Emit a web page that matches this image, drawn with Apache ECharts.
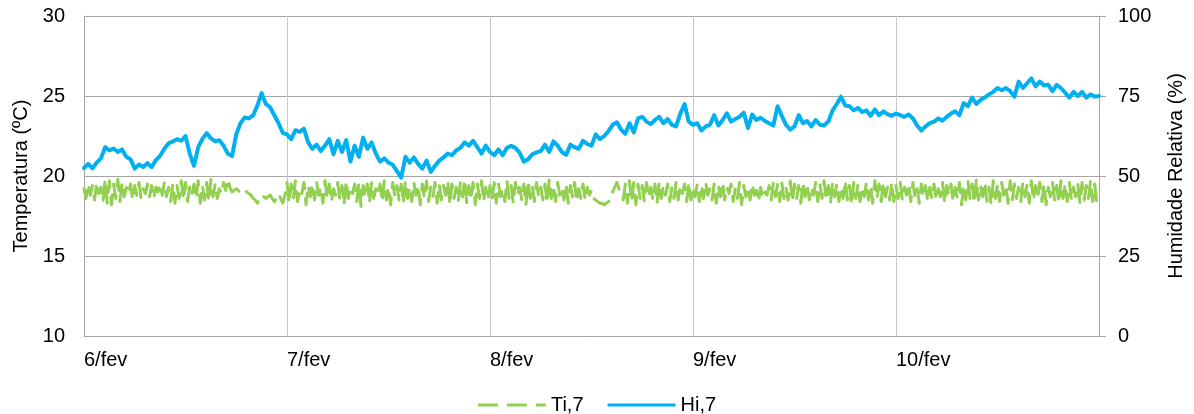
<!DOCTYPE html>
<html>
<head>
<meta charset="utf-8">
<title>Ti,7 / Hi,7</title>
<script src="https://cdn.jsdelivr.net/npm/echarts@6/dist/echarts.min.js"></script>
<style>
  html, body { margin: 0; padding: 0; background: #ffffff; }
  #chart { width: 1194px; height: 414px; }
</style>
</head>
<body>
<div id="chart"></div>
<script>
// Logger readings from 6/fev 00:00 to 11/fev 00:00
const dayLabels = ['6/fev', '7/fev', '8/fev', '9/fev', '10/fev'];
const tiPerDay = 96;   // temperature every 15 minutes
const hiPerDay = 48;   // humidity every 30 minutes

// Temperature (ºC), sensor 7
const tiDay6 = [
  19.2, 18.6, 19.5, 18.8, 19.4, 18.5, 19.6, 18.9, 19.3, 18.4, 19.8, 18.3, 19.7, 18.2, 19.5, 18.6,
  19.8, 18.4, 19.6, 18.7, 19.3, 18.9, 19.5, 18.5, 19.4, 18.8, 19.6, 18.6, 19.2, 18.9, 19.5, 18.7,
  19.4, 18.6, 19.3, 19.0, 19.5, 18.8, 19.6, 18.7, 19.3, 18.4, 19.5, 18.3, 19.4, 18.6, 19.7, 18.5,
  19.6, 18.4, 19.3, 18.8, 19.5, 18.6, 19.7, 18.3, 19.4, 18.5, 19.6, 18.4, 19.8, 18.7, 19.5, 18.6,
  19.2, 18.9, 19.6, 19.1, 19.8, 19.3, 19.0, 19.1, 19.2, 19.1, 18.9, 19.0, 19.1, 19.0, 18.9, 18.8,
  18.6, 18.5, 18.3, 18.5, 18.8, 18.7, 18.6, 18.7, 18.8, 18.6, 18.4, 18.6, 18.9, 18.6, 18.3, 18.8];
const tiDay7 = [
  19.6, 18.3, 19.5, 18.6, 19.7, 18.4, 19.2, 18.9, 19.6, 18.2, 19.4, 18.7, 19.5, 18.5, 19.6, 18.8,
  19.3, 18.3, 19.7, 18.6, 19.5, 18.4, 19.2, 18.8, 19.6, 18.5, 19.4, 18.2, 19.7, 18.6, 19.3, 18.9,
  19.5, 18.4, 19.6, 18.1, 19.4, 18.7, 19.5, 18.3, 19.6, 18.6, 19.2, 18.8, 19.5, 18.4, 19.7, 18.5,
  19.3, 18.2, 19.6, 18.7, 19.4, 18.5, 19.5, 18.3, 19.7, 18.6, 19.3, 18.4, 19.6, 18.8, 19.4, 18.2,
  19.5, 18.6, 19.7, 18.4, 19.3, 18.7, 19.6, 18.3, 19.5, 18.5, 19.4, 18.8, 19.7, 18.2, 19.5, 18.6,
  19.3, 18.4, 19.6, 18.7, 19.8, 18.3, 19.4, 18.5, 19.6, 18.2, 19.5, 18.6, 19.7, 18.4, 19.3, 18.5];
const tiDay8 = [
  19.4, 18.5, 19.6, 18.3, 19.5, 18.7, 19.2, 18.4, 19.7, 18.6, 19.4, 18.3, 19.6, 18.8, 19.3, 18.5,
  19.5, 18.2, 19.7, 18.6, 19.4, 18.4, 19.6, 18.7, 19.3, 18.5, 19.5, 18.3, 19.8, 18.6, 19.4, 18.4,
  19.6, 18.8, 19.3, 18.5, 19.5, 18.3, 19.4, 18.7, 19.6, 18.4, 19.2, 18.6, 19.5, 18.5, 19.3, 18.8,
  19.1, 18.6, 18.5, 18.4, 18.3, 18.3, 18.2, 18.3, 18.4, 18.5, 19.0, 19.3, 19.6, 19.2, 18.9, 18.5,
  19.5, 18.3, 19.7, 18.4, 19.6, 18.2, 19.5, 18.6, 19.4, 18.4, 19.6, 18.7, 19.3, 18.5, 19.5, 18.3,
  19.6, 18.6, 19.4, 18.8, 19.5, 18.4, 19.3, 18.6, 19.6, 18.5, 19.4, 18.9, 19.5, 18.4, 19.6, 18.5];
const tiDay9 = [
  19.3, 18.7, 19.5, 18.4, 19.4, 18.6, 19.6, 18.8, 19.2, 18.5, 19.5, 18.3, 19.4, 18.7, 19.6, 18.5,
  19.3, 18.9, 19.5, 18.4, 19.2, 18.6, 19.6, 18.2, 19.4, 18.7, 19.3, 18.5, 19.5, 18.8, 19.1, 18.4,
  19.3, 18.6, 19.0, 18.8, 19.4, 18.5, 19.6, 18.7, 19.5, 18.4, 19.6, 18.6, 19.3, 18.5, 19.7, 18.4,
  19.5, 18.6, 19.4, 18.3, 19.6, 18.7, 19.5, 18.5, 19.3, 18.8, 19.6, 18.4, 19.5, 18.6, 19.7, 18.5,
  19.4, 18.3, 19.6, 18.7, 19.5, 18.4, 19.3, 18.6, 19.7, 18.5, 19.4, 18.2, 19.6, 18.6, 19.5, 18.4,
  19.3, 18.7, 19.6, 18.5, 19.4, 18.3, 19.7, 18.6, 19.5, 18.4, 19.6, 18.7, 19.3, 18.5, 19.6, 18.4];
const tiDay10 = [
  19.4, 18.6, 19.6, 18.5, 19.3, 18.8, 19.5, 18.4, 19.6, 18.6, 19.2, 18.3, 19.5, 18.7, 19.4, 18.4,
  19.3, 18.6, 19.5, 18.5, 19.2, 18.7, 19.6, 18.3, 19.4, 18.8, 19.5, 18.4, 19.3, 18.6, 19.6, 18.2,
  19.4, 18.5, 19.7, 18.6, 19.5, 18.3, 19.8, 18.5, 19.4, 18.7, 19.6, 18.4, 19.3, 18.2, 19.7, 18.6,
  19.5, 18.4, 19.6, 18.8, 19.4, 18.3, 19.7, 18.5, 19.5, 18.6, 19.3, 18.4, 19.6, 18.7, 19.5, 18.3,
  19.7, 18.5, 19.4, 18.6, 19.6, 18.4, 19.5, 18.2, 19.3, 18.7, 19.6, 18.5, 19.4, 18.3, 19.7, 18.6,
  19.5, 18.4, 19.6, 18.5, 19.3, 18.7, 19.5, 18.3, 19.6, 18.5, 19.4, 18.6, 19.7, 18.4, 19.5, 18.2, 18.0];

// Relative humidity (%), sensor 7
const hiDay6 = [52.5, 53.8, 52.4, 54.2, 55.5, 59.0, 58.0, 58.6, 57.5, 58.3, 56.0, 55.2, 52.3, 53.6, 52.8, 54.0,
  52.8, 55.0, 56.3, 58.5, 60.2, 60.8, 61.5, 61.0, 62.5, 57.0, 53.2, 59.0, 61.6, 63.4, 61.8, 60.8,
  61.2, 59.5, 57.0, 56.2, 63.0, 66.5, 68.3, 68.0, 69.0, 72.0, 75.9, 72.5, 71.5, 69.0, 66.5, 63.5];
const hiDay7 = [63.0, 61.5, 64.3, 63.8, 64.8, 60.5, 58.5, 59.8, 57.8, 59.5, 61.5, 56.8, 61.0, 57.5, 61.2, 54.5,
  59.5, 56.0, 62.0, 58.5, 60.5, 57.0, 54.5, 55.5, 54.2, 53.5, 51.5, 49.5, 56.0, 54.2, 55.8, 53.8,
  52.3, 54.8, 51.3, 53.2, 54.8, 55.8, 57.0, 56.5, 58.0, 58.8, 60.5, 59.5, 61.0, 59.0, 57.0, 59.5];
const hiDay8 = [57.5, 56.5, 58.3, 56.5, 58.8, 59.4, 58.8, 57.3, 54.5, 55.2, 56.8, 57.4, 57.8, 59.8, 57.5, 60.8,
  59.5, 57.5, 56.6, 59.8, 59.0, 58.5, 61.0, 60.0, 59.5, 63.0, 61.5, 62.5, 64.0, 66.0, 66.8, 64.5,
  63.2, 66.5, 63.6, 68.0, 68.5, 67.0, 66.2, 67.5, 68.5, 66.5, 67.8, 66.0, 65.5, 69.5, 72.5, 67.0];
const hiDay9 = [66.0, 66.5, 64.2, 65.5, 66.0, 69.0, 65.8, 67.5, 69.6, 67.0, 67.8, 68.5, 69.8, 65.0, 69.2, 67.5,
  68.2, 67.2, 66.5, 65.8, 71.8, 68.8, 66.0, 64.5, 65.5, 69.0, 66.5, 67.2, 65.5, 67.5, 66.0, 65.8,
  67.0, 70.5, 72.5, 74.8, 72.0, 71.8, 70.5, 71.3, 70.0, 70.5, 68.8, 70.8, 69.0, 70.2, 69.3, 68.8];
const hiDay10 = [69.5, 69.0, 68.5, 69.2, 68.0, 65.8, 64.2, 65.5, 66.5, 67.0, 68.0, 67.3, 68.5, 69.5, 70.2, 69.0,
  72.8, 71.8, 74.5, 72.5, 73.8, 74.5, 75.5, 76.3, 77.5, 76.8, 77.5, 76.5, 74.8, 79.5, 77.5, 79.0,
  80.5, 78.0, 79.5, 78.3, 78.5, 76.5, 78.5, 77.5, 76.0, 74.5, 76.3, 75.0, 76.3, 74.5, 75.5, 74.8, 75.0];

const tiValues = [].concat(tiDay6, tiDay7, tiDay8, tiDay9, tiDay10);
const hiValues = [].concat(hiDay6, hiDay7, hiDay8, hiDay9, hiDay10);

// pair each reading with its time, in days since 6/fev 00:00
const withTime = (values, perDay) => values.map((v, i) => [i / perDay, v]);

const GREEN = '#92D050';
const BLUE = '#00B0F0';
const FONT = '"Liberation Sans", Arial, sans-serif';
const TEXT = { fontFamily: FONT, fontSize: 20, color: '#000000' };

const chart = echarts.init(document.getElementById('chart'), null, { renderer: 'canvas' });
chart.setOption({
  animation: false,
  backgroundColor: '#ffffff',
  textStyle: { fontFamily: FONT },
  grid: { left: 84, right: 94, top: 16, bottom: 78 },
  legend: {
    // legend keys: a long-dash stroke for Ti and a solid stroke for Hi
    data: [
      { name: 'Ti,7', icon: 'path://M0,0h20v3h-20z M29,0h20v3h-20z M58,0h10v3h-10z' },
      { name: 'Hi,7', icon: 'path://M0,0h68v3h-68z' }
    ],
    left: 'center',
    top: 390,
    itemWidth: 68,
    itemHeight: 3,
    itemGap: 24,
    textStyle: TEXT
  },
  xAxis: {
    type: 'value',
    min: 0,
    max: 5,
    interval: 1,
    axisLine: { show: true, lineStyle: { color: '#A6A6A6', width: 1 } },
    axisTick: { show: false },
    axisLabel: {
      ...TEXT,
      align: 'left',
      margin: 14,
      formatter: (v) => dayLabels[v] || ''
    },
    splitLine: { show: true, lineStyle: { color: '#C8C8C8', width: 1 } }
  },
  yAxis: [
    {
      type: 'value',
      position: 'left',
      min: 10,
      max: 30,
      interval: 5,
      name: 'Temperatura (ºC)',
      nameLocation: 'middle',
      nameGap: 51,
      nameTextStyle: TEXT,
      axisLine: { show: true, lineStyle: { color: '#A6A6A6', width: 1 } },
      axisTick: { show: false },
      axisLabel: { ...TEXT, margin: 19 },
      splitLine: { show: true, lineStyle: { color: '#A6A6A6', width: 1 } }
    },
    {
      type: 'value',
      position: 'right',
      min: 0,
      max: 100,
      interval: 25,
      name: 'Humidade Relativa (%)',
      nameLocation: 'middle',
      nameGap: 67,
      nameTextStyle: TEXT,
      axisLine: { show: true, lineStyle: { color: '#A6A6A6', width: 1 } },
      axisTick: { show: true, length: 7, lineStyle: { color: '#A6A6A6' } },
      axisLabel: { ...TEXT, margin: 19 },
      splitLine: { show: false }
    }
  ],
  series: [
    {
      name: 'Ti,7',
      type: 'line',
      yAxisIndex: 0,
      symbol: 'none',
      data: withTime(tiValues, tiPerDay),
      lineStyle: { color: GREEN, width: 3, type: [18, 10], cap: 'round', join: 'round' },
      itemStyle: { color: GREEN }
    },
    {
      name: 'Hi,7',
      type: 'line',
      yAxisIndex: 1,
      symbol: 'none',
      data: withTime(hiValues, hiPerDay),
      lineStyle: { color: BLUE, width: 4, join: 'round', cap: 'round' },
      itemStyle: { color: BLUE }
    }
  ]
});
</script>
</body>
</html>
